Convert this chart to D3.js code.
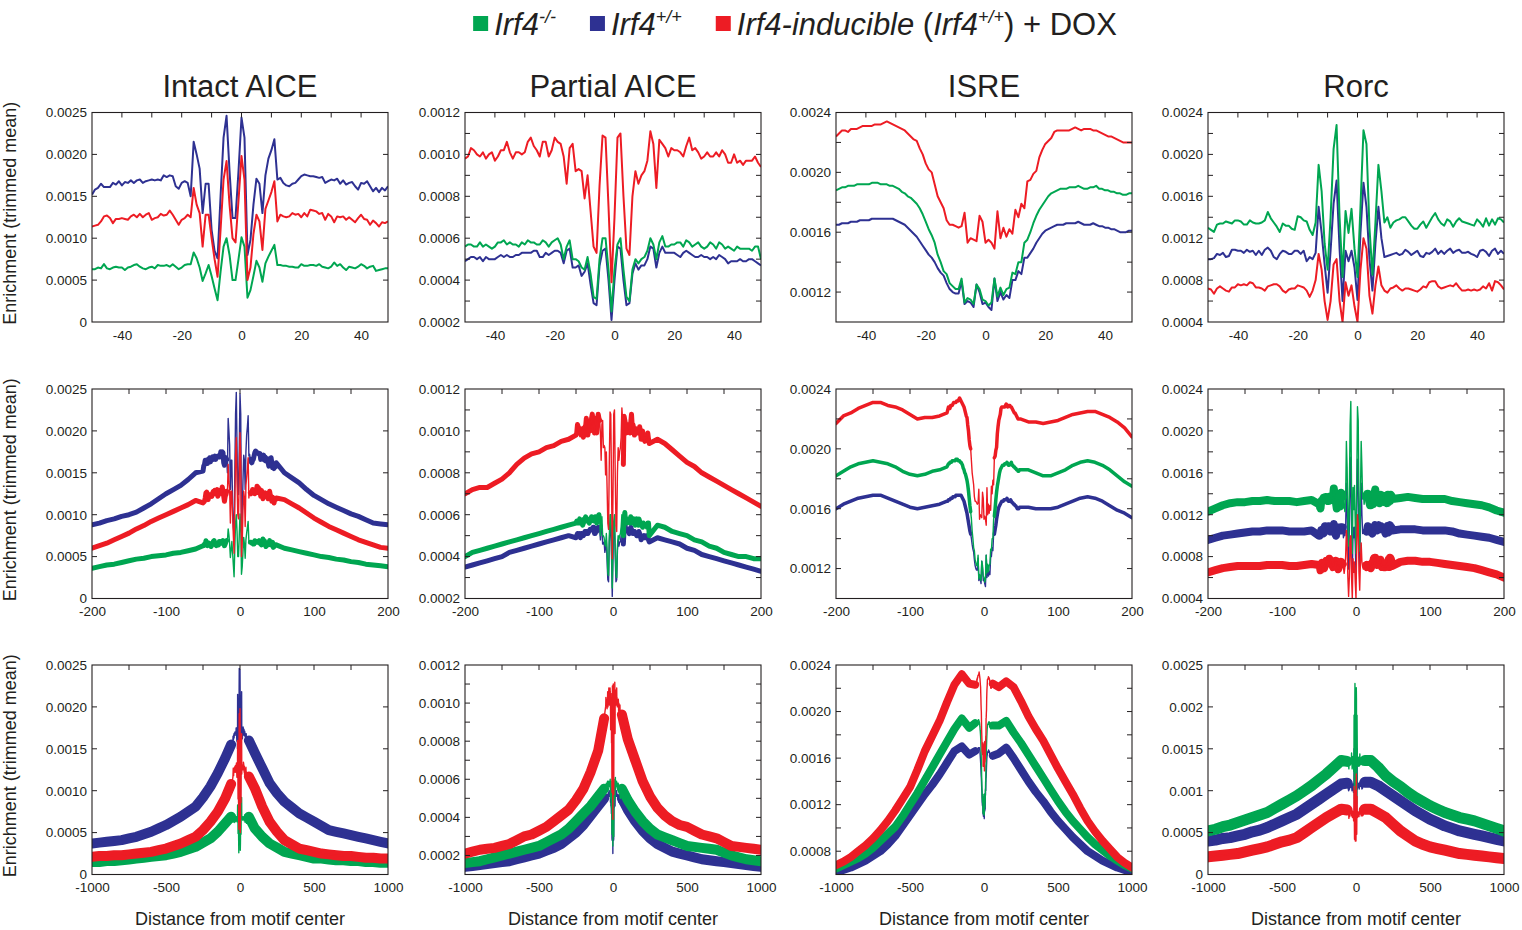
<!DOCTYPE html>
<html>
<head>
<meta charset="utf-8">
<script src="https://cdn.jsdelivr.net/npm/d3@7"></script>
<style>
  body { margin: 0; background: #fff; }
  text { font-family: "Liberation Sans", Arial, Helvetica, sans-serif; fill: #231f20; }
  .tick text { font-size: 13.5px; }
</style>
</head>
<body>
<div id="chart"></div>
<script>
// all enrichment values are in units of 1e-4 (0.0010 -> 10)

// x grids: fine (row 1), mid flanks (row 2), wide flanks (row 3)
var xFine = d3.range(-50, 50);
var xMid = d3.range(-200, -59, 10).concat(d3.range(60, 201, 10));
var xWide = d3.range(-1000, -99, 50).concat([-60, 60]).concat(d3.range(100, 1001, 50));

// ---------- Intact AICE ----------
var aiceFineWT = [15.2,15.8,16.0,16.5,16.1,16.1,16.1,16.6,16.4,16.8,
  16.3,16.7,16.6,16.9,16.6,16.9,17.0,16.6,16.8,16.9,
  17.0,16.9,17.0,16.9,17.5,17.3,17.5,17.4,16.2,15.9,
  16.6,16.8,16.6,15.0,21.5,20.0,18.3,13.0,16.5,16.5,
  11.0,8.5,7.6,15.0,22.0,24.6,18.0,12.4,12.4,18.0,
  24.4,22.0,8.0,9.8,14.0,17.1,16.5,13.0,17.5,19.5,
  20.5,21.8,17.0,17.2,16.6,16.3,16.2,16.5,16.6,17.0,
  17.4,17.6,17.5,17.4,17.4,17.3,17.2,17.3,16.6,16.8,
  17.0,16.9,17.1,16.5,16.9,16.4,16.6,16.7,16.2,15.8,
  16.6,16.5,16.8,16.2,15.6,16.0,15.5,16.0,15.7,16.2];
var aiceFineDOX = [11.4,11.5,11.6,12.0,12.6,12.7,12.4,11.8,12.3,12.3,
  12.4,12.3,12.2,12.6,12.8,12.5,12.9,12.5,12.8,13.0,
  12.2,12.4,12.5,12.9,12.7,12.8,13.3,12.8,12.2,11.6,
  12.2,12.4,12.8,12.5,16.0,14.0,13.0,9.0,12.8,12.8,
  10.0,7.5,5.4,11.0,17.0,19.2,14.0,10.0,9.5,14.5,
  19.8,17.0,5.0,6.5,10.5,12.8,12.0,8.6,13.5,14.5,
  15.5,16.8,12.0,12.8,12.6,12.5,12.6,13.0,12.8,12.9,
  12.5,13.0,12.6,13.4,13.3,13.2,12.9,13.0,12.2,12.9,
  12.6,11.9,12.6,12.5,12.6,12.2,12.5,12.2,11.9,12.4,
  12.8,12.3,12.2,11.6,12.1,11.8,11.4,11.9,11.8,12.0];
var aiceFineKO = [6.3,6.3,6.5,6.4,6.9,6.4,6.3,6.5,6.6,6.5,
  6.5,6.2,6.5,6.6,6.8,6.9,6.6,6.4,6.3,6.5,
  6.6,6.4,6.8,6.7,6.7,6.8,6.6,6.9,6.6,6.3,
  6.5,6.8,6.9,6.9,8.3,7.6,6.5,4.9,5.8,6.8,
  5.5,4.0,2.6,6.0,9.0,10.0,8.0,5.0,5.0,7.5,
  10.1,9.0,2.9,3.8,5.5,7.3,6.5,4.8,7.0,7.8,
  8.5,9.2,6.8,6.8,6.7,6.7,6.6,6.6,6.5,6.5,
  6.9,6.7,6.7,6.8,6.8,6.7,6.9,6.6,6.5,6.4,
  6.6,7.1,6.7,6.9,6.5,6.2,6.6,6.5,6.4,6.6,
  6.9,6.7,6.4,6.6,6.7,6.1,6.2,6.3,6.4,6.4];
var aiceMidWT = [8.8,9.0,9.3,9.5,9.8,10.0,10.3,10.8,11.3,11.9,12.5,13.0,13.5,14.2,15.0,
  15.0,14.4,13.8,13.0,12.3,11.8,11.3,10.9,10.5,10.1,9.8,9.4,9.0,8.9,8.8];
var aiceMidDOX = [6.0,6.3,6.6,7.0,7.4,7.8,8.3,8.7,9.2,9.6,10.0,10.4,10.8,11.2,11.7,
  11.8,11.3,10.8,10.2,9.6,9.1,8.6,8.2,7.8,7.4,7.0,6.7,6.4,6.1,6.0];
var aiceMidKO = [3.6,3.8,4.0,4.1,4.3,4.5,4.7,4.8,5.0,5.1,5.2,5.4,5.5,5.7,5.9,
  6.0,5.8,5.6,5.4,5.2,5.0,4.9,4.7,4.6,4.4,4.3,4.1,4.0,3.9,3.8];
var aiceWideWT = [3.7,3.8,3.9,4.0,4.1,4.3,4.5,4.8,5.1,5.5,5.9,6.4,6.9,7.5,8.1,9.2,10.5,12.1,13.9,15.5,
  16.0,14.5,12.7,10.9,9.7,8.7,8.0,7.3,6.8,6.3,5.8,5.3,5.1,4.9,4.7,4.5,4.3,4.1,3.9,3.7];
var aiceWideDOX = [2.1,2.2,2.2,2.3,2.3,2.4,2.5,2.6,2.7,2.9,3.1,3.4,3.7,4.1,4.5,5.3,6.3,7.5,9.1,10.8,
  11.7,10.3,8.1,6.3,5.1,4.1,3.6,3.1,2.9,2.7,2.5,2.4,2.3,2.2,2.2,2.1,2.0,2.0,1.9,1.9];
var aiceWideKO = [1.5,1.5,1.6,1.6,1.7,1.8,1.9,2.0,2.1,2.2,2.3,2.5,2.7,3.0,3.3,3.8,4.3,5.1,6.1,6.9,
  6.9,5.5,4.5,3.7,3.2,2.7,2.5,2.3,2.1,1.9,1.9,1.8,1.7,1.7,1.6,1.6,1.5,1.5,1.4,1.4];

// ---------- Partial AICE ----------
var partialFineDOX = [9.8,9.9,10.3,10.2,10.0,9.9,10.1,9.8,10.0,10.1,
  9.7,9.9,10.2,10.2,10.6,10.1,9.8,10.1,10.1,10.0,
  10.1,10.6,10.8,10.4,10.2,9.9,10.6,10.6,9.9,10.2,
  10.8,10.6,10.5,9.9,8.6,10.3,10.5,9.2,9.3,9.2,
  7.9,9.0,7.3,5.6,5.3,8.5,10.9,10.8,7.5,3.9,
  7.0,10.8,11.0,8.0,5.5,5.2,8.0,9.2,8.6,9.0,
  9.2,9.7,11.1,10.5,8.4,10.7,10.5,10.3,9.9,10.3,
  10.2,10.2,10.1,9.9,10.4,10.8,10.2,10.3,10.1,9.8,
  9.9,10.1,9.9,9.9,10.1,9.9,10.2,10.0,9.6,9.6,
  10.0,9.6,9.7,9.5,9.7,9.7,9.7,9.9,9.6,9.4];
var partialFineKO = [5.6,5.7,5.7,5.6,5.6,5.8,5.6,5.7,5.6,5.5,
  5.6,5.8,5.8,5.9,5.7,5.8,5.7,5.7,5.6,5.8,
  5.7,5.9,5.8,5.8,5.7,5.7,5.9,5.8,5.6,5.8,
  5.9,6.0,5.7,5.0,5.6,5.9,5.0,5.0,4.9,4.6,
  4.5,5.1,4.3,3.2,3.1,5.0,6.0,6.0,4.5,2.5,
  4.5,5.7,6.0,4.5,3.2,3.0,4.5,5.0,4.8,5.0,
  5.1,5.4,6.0,5.7,5.0,5.8,6.1,5.6,5.6,5.7,
  5.7,5.8,5.8,5.6,5.9,5.8,5.6,5.7,5.8,5.6,
  5.5,5.6,5.8,5.7,5.5,5.8,5.7,5.5,5.6,5.5,
  5.4,5.6,5.5,5.5,5.5,5.5,5.4,5.6,5.6,5.0];
var partialFineWT = [4.9,5.0,5.1,5.1,5.0,5.1,4.9,5.1,5.0,5.0,
  5.0,5.1,5.2,5.1,5.2,5.1,5.1,5.2,5.2,5.3,
  5.3,5.3,5.3,5.4,5.4,5.1,5.1,5.3,5.2,5.3,
  5.4,5.4,5.3,4.8,5.4,5.5,4.6,4.6,4.7,4.2,
  4.4,4.8,3.8,2.9,2.8,4.7,5.4,5.5,4.0,2.1,
  4.0,5.6,5.5,4.0,2.8,2.9,4.3,4.8,4.5,4.7,
  4.7,5.0,5.6,5.5,4.6,5.3,5.6,5.3,5.3,5.3,
  5.3,5.2,5.1,5.3,5.4,5.3,5.2,5.1,5.1,5.2,
  5.1,5.1,5.0,5.1,5.0,5.2,5.1,5.0,4.8,4.9,
  4.9,4.9,5.0,4.9,4.9,5.0,5.0,4.9,4.8,4.7];
var partialMidDOX = [7.0,7.2,7.3,7.3,7.5,7.7,8.0,8.4,8.7,8.9,9.0,9.2,9.3,9.5,9.6,
  9.6,9.4,9.1,8.8,8.5,8.3,8.0,7.8,7.6,7.4,7.2,7.0,6.8,6.6,6.4];
var partialMidKO = [4.0,4.2,4.3,4.4,4.5,4.6,4.7,4.8,4.9,5.0,5.1,5.2,5.3,5.4,5.5,
  5.5,5.4,5.2,5.1,5.0,4.8,4.7,4.5,4.4,4.2,4.1,4.0,4.0,3.9,3.9];
var partialMidWT = [3.5,3.6,3.7,3.8,3.9,4.0,4.2,4.3,4.4,4.5,4.6,4.7,4.8,4.9,5.0,
  4.9,4.8,4.7,4.6,4.4,4.3,4.1,4.0,3.9,3.8,3.7,3.6,3.5,3.4,3.3];
var partialWideDOX = [2.1,2.2,2.3,2.35,2.4,2.5,2.6,2.8,3.0,3.1,3.3,3.5,3.8,4.1,4.4,4.9,5.5,6.4,7.5,9.2,
  9.4,8.1,7.0,5.9,5.1,4.5,4.1,3.8,3.6,3.5,3.3,3.1,3.0,2.9,2.7,2.5,2.45,2.4,2.35,2.3];
var partialWideKO = [1.6,1.65,1.7,1.8,1.9,2.0,2.1,2.2,2.3,2.4,2.5,2.7,2.9,3.1,3.4,3.8,4.2,4.6,5.1,5.5,
  5.5,4.9,4.3,3.8,3.4,3.1,2.95,2.8,2.65,2.5,2.45,2.4,2.35,2.3,2.15,2.0,1.9,1.8,1.75,1.7];
var partialWideWT = [1.4,1.45,1.5,1.55,1.6,1.65,1.7,1.8,1.9,2.0,2.1,2.25,2.4,2.6,2.9,3.2,3.6,4.1,4.6,5.0,
  5.0,4.4,3.8,3.3,2.9,2.6,2.4,2.2,2.1,2.0,1.9,1.8,1.75,1.7,1.65,1.6,1.55,1.5,1.45,1.4];

// ---------- ISRE ----------
var isreFineDOX = [22.4,22.6,22.8,22.8,22.7,22.9,22.9,22.9,23.0,23.1,
  23.1,23.1,23.1,23.2,23.2,23.2,23.3,23.4,23.3,23.2,
  23.1,23.0,22.9,22.8,22.6,22.4,22.2,22.1,21.6,21.2,
  20.6,20.2,20.0,19.2,18.4,18.0,17.6,16.8,16.5,16.5,
  16.4,16.3,16.4,17.3,15.3,15.6,15.5,15.4,17.1,16.7,
  15.3,15.5,15.3,14.9,17.4,15.6,16.3,15.7,16.2,15.9,
  17.5,17.0,17.9,17.6,19.4,19.5,19.9,20.1,21.0,21.5,
  21.9,22.1,22.3,22.7,22.8,22.8,22.8,22.8,22.8,22.9,
  23.0,22.9,22.8,22.9,22.9,22.9,22.8,22.8,22.7,22.6,
  22.5,22.4,22.4,22.3,22.2,22.1,22.0,22.0,22.0,22.0];
var isreFineKO = [18.8,18.9,19.0,19.0,19.1,19.1,19.1,19.2,19.2,19.2,
  19.2,19.2,19.3,19.3,19.3,19.2,19.2,19.2,19.1,19.1,
  19.0,18.9,18.7,18.6,18.4,18.3,18.1,17.9,17.6,17.2,
  16.7,16.2,15.8,15.3,14.5,14.0,13.4,13.2,12.6,12.4,
  12.2,12.2,12.9,11.3,11.6,11.5,11.2,12.5,12.2,11.5,
  11.4,11.1,11.3,12.9,11.7,12.3,11.8,12.2,12.3,13.3,
  13.2,14.0,14.0,15.3,15.5,16.0,16.6,17.1,17.5,17.8,
  18.1,18.4,18.6,18.7,18.8,18.9,18.9,18.9,19.0,19.0,
  19.0,19.1,19.0,18.9,18.9,19.0,19.0,19.1,18.9,18.9,
  18.8,18.8,18.7,18.7,18.6,18.6,18.5,18.5,18.6,18.6];
var isreFineWT = [16.5,16.5,16.6,16.6,16.6,16.7,16.7,16.7,16.8,16.8,
  16.8,16.8,16.9,16.9,16.9,16.9,16.9,16.9,16.9,16.9,
  16.8,16.7,16.6,16.5,16.3,16.1,15.9,15.7,15.4,15.1,
  14.8,14.5,14.3,14.0,13.6,13.3,13.1,12.6,12.2,12.0,
  11.9,11.9,12.7,11.2,11.4,11.3,11.0,12.5,12.0,11.2,
  11.3,11.0,10.8,12.9,11.4,12.0,11.5,11.8,11.6,12.8,
  12.8,13.4,13.2,14.3,14.3,14.6,14.9,15.3,15.6,15.9,
  16.1,16.2,16.3,16.4,16.5,16.5,16.5,16.6,16.6,16.6,
  16.6,16.7,16.6,16.5,16.5,16.5,16.6,16.5,16.4,16.4,
  16.3,16.3,16.2,16.2,16.1,16.0,16.0,16.0,16.1,16.1];
var isreMidDOX = [21.7,22.2,22.4,22.7,22.9,23.1,23.1,22.9,22.8,22.6,22.3,22.0,22.1,22.1,22.2,
  21.8,21.8,21.7,21.8,21.9,22.1,22.3,22.4,22.5,22.5,22.3,22.1,21.8,21.4,20.8];
var isreMidKO = [18.2,18.5,18.8,19.0,19.1,19.2,19.1,19.0,18.8,18.5,18.3,18.2,18.3,18.5,18.6,
  18.6,18.4,18.2,18.2,18.4,18.6,18.9,19.1,19.2,19.1,18.9,18.6,18.2,17.8,17.5];
var isreMidWT = [16.0,16.3,16.5,16.7,16.8,16.9,16.9,16.7,16.5,16.3,16.1,16.0,16.1,16.2,16.3,
  16.1,16.0,16.0,16.0,16.1,16.3,16.5,16.7,16.8,16.7,16.5,16.2,15.9,15.7,15.4];
var isreWideDOX = [6.8,7.1,7.5,8.0,8.5,9.1,9.8,10.6,11.5,12.5,13.5,15.0,16.6,17.9,19.2,20.8,22.3,23.2,22.4,22.3,
  22.4,22.1,22.6,22.1,20.9,19.6,18.5,17.5,16.3,15.1,14.0,12.9,11.7,10.6,9.7,8.9,8.2,7.5,7.0,6.6];
var isreWideKO = [6.5,6.8,7.1,7.4,7.8,8.3,8.9,9.5,10.1,11.0,12.0,13.0,14.1,15.2,16.3,17.4,18.5,19.4,18.6,19.0,
  18.8,18.8,19.2,18.2,17.3,16.3,15.3,14.3,13.3,12.3,11.4,10.6,9.9,9.2,8.6,8.1,7.6,7.2,6.8,6.5];
var isreWideWT = [6.2,6.4,6.6,6.9,7.2,7.6,8.0,8.6,9.3,10.2,11.1,12.0,12.9,13.7,14.6,15.6,16.6,17.0,16.3,16.6,
  16.2,16.4,16.9,16.0,15.0,14.0,13.1,12.3,11.4,10.6,9.9,9.2,8.6,8.0,7.6,7.2,6.9,6.6,6.4,6.1];

// ---------- Rorc ----------
var rorcFineKO = [13.0,12.8,12.6,13.3,13.4,13.4,13.6,13.5,13.4,13.7,
  13.7,13.6,13.3,13.3,13.7,13.5,13.4,13.4,13.5,13.7,
  14.5,13.9,13.5,13.1,12.6,13.4,13.2,13.2,12.9,12.8,
  14.1,14.0,13.7,13.6,12.8,12.3,13.5,19.0,16.5,11.5,
  9.0,14.0,20.5,22.8,14.0,8.3,14.6,12.5,14.8,11.0,
  8.3,15.0,22.3,21.0,13.0,8.5,13.5,19.0,16.5,13.5,
  14.0,13.0,13.5,13.7,13.8,14.0,14.0,13.6,13.2,12.9,
  12.9,13.3,13.6,13.0,13.5,14.0,14.4,13.8,13.4,13.2,
  13.8,13.6,13.1,13.6,13.9,13.6,13.5,13.4,13.3,13.2,
  13.8,13.5,13.1,13.9,13.2,13.8,13.3,13.9,13.8,13.5];
var rorcFineWT = [10.0,10.0,10.1,10.5,10.4,10.6,10.2,10.3,10.9,10.9,
  10.8,10.8,10.6,10.9,10.7,10.8,10.4,10.8,10.4,10.9,
  11.1,10.8,10.2,10.0,10.5,10.8,10.7,10.5,10.5,10.8,
  10.8,10.5,10.8,9.8,10.2,10.0,10.6,15.0,12.5,9.5,
  6.8,10.8,15.3,17.5,11.0,6.0,10.8,9.8,10.8,9.2,
  6.1,12.5,17.3,15.0,10.0,7.0,11.5,15.0,12.0,10.2,
  10.3,10.4,10.5,10.6,10.4,10.5,10.9,10.7,10.4,10.6,
  10.8,10.3,10.2,10.6,10.5,10.7,11.0,10.5,10.8,10.5,
  10.8,11.0,10.6,10.8,10.9,10.6,10.6,10.7,10.5,10.4,
  10.2,10.8,10.9,10.7,10.3,10.8,11.0,10.5,10.8,10.5];
var rorcFineDOX = [7.2,7.1,6.7,7.2,7.4,7.2,7.0,6.9,7.3,7.3,
  7.6,7.5,7.6,7.5,7.8,7.7,7.3,7.3,7.2,7.0,
  7.4,7.5,7.6,7.6,7.4,7.0,6.8,7.1,7.2,7.2,
  7.5,7.4,7.3,7.0,6.4,7.0,8.0,10.5,9.0,6.0,
  4.2,6.0,9.5,10.0,6.0,4.0,7.8,6.5,7.5,5.5,
  4.0,9.0,12.0,11.0,6.5,4.8,7.5,9.3,7.5,7.0,
  6.8,7.2,7.3,7.5,7.2,7.0,7.2,7.2,7.1,7.0,
  6.9,7.1,7.4,7.3,7.8,7.9,7.9,7.4,7.2,7.3,
  7.4,7.5,7.4,7.7,7.3,7.0,7.0,7.1,7.0,7.1,
  7.0,7.1,7.4,7.2,7.7,7.0,7.9,7.8,7.5,7.1];
var rorcMidKO = [12.3,12.6,12.9,13.1,13.2,13.2,13.3,13.3,13.4,13.3,13.3,13.3,13.2,13.3,13.4,
  13.6,13.7,13.6,13.5,13.5,13.5,13.5,13.3,13.2,13.1,13.0,12.9,12.7,12.4,12.2];
var rorcMidWT = [9.6,9.8,10.0,10.1,10.2,10.3,10.4,10.4,10.5,10.5,10.5,10.4,10.4,10.4,10.5,
  10.6,10.6,10.6,10.5,10.5,10.5,10.5,10.4,10.2,10.1,10.0,9.9,9.8,9.6,9.4];
var rorcMidDOX = [6.5,6.7,6.9,7.0,7.1,7.1,7.1,7.1,7.2,7.2,7.2,7.1,7.1,7.2,7.3,
  7.5,7.6,7.6,7.5,7.5,7.4,7.3,7.2,7.1,7.0,6.9,6.7,6.5,6.3,6.0];
var rorcWideKO = [5.2,5.4,5.7,5.9,6.2,6.5,6.8,7.1,7.4,7.9,8.4,8.9,9.4,10.0,10.6,11.3,12.0,12.8,13.6,13.5,
  13.6,13.6,12.8,11.8,11.1,10.5,9.8,9.2,8.7,8.2,7.8,7.4,7.1,6.8,6.6,6.4,6.1,5.8,5.5,5.2];
var rorcWideWT = [4.0,4.1,4.3,4.4,4.6,4.8,5.1,5.3,5.6,6.0,6.4,6.8,7.2,7.8,8.4,9.0,9.6,10.2,10.8,10.9,
  11.0,11.0,10.6,10.0,9.4,8.8,8.2,7.6,7.1,6.6,6.2,5.8,5.5,5.2,5.0,4.8,4.6,4.4,4.2,4.0];
var rorcWideDOX = [2.1,2.2,2.3,2.4,2.5,2.7,2.9,3.1,3.3,3.6,3.9,4.1,4.4,5.0,5.6,6.2,6.8,7.3,7.8,7.7,
  7.8,7.8,7.3,6.8,6.0,5.2,4.6,4.0,3.6,3.3,3.1,2.9,2.7,2.5,2.4,2.3,2.2,2.1,2.0,1.9];

// ---------- axes ----------
var titles = ["Intact AICE", "Partial AICE", "ISRE", "Rorc"];
var xDomains = [[-50, 49], [-200, 200], [-1000, 1000]];
var xTickVals = [[-40, -20, 0, 20, 40], [-200, -100, 0, 100, 200], [-1000, -500, 0, 500, 1000]];
var xMinorStep = [10, 50, 250];

var yDomains = [
  [[0, 25], [0, 25], [0, 25]],
  [[2, 12], [2, 12], [1, 12]],
  [[10, 24], [10, 24], [6, 24]],
  [[4, 24], [4, 24], [0, 25]]
];
var yTickVals = [
  [[0,5,10,15,20,25], [0,5,10,15,20,25], [0,5,10,15,20,25]],
  [[2,4,6,8,10,12], [2,4,6,8,10,12], [2,4,6,8,10,12]],
  [[12,16,20,24], [12,16,20,24], [8,12,16,20,24]],
  [[4,8,12,16,20,24], [4,8,12,16,20,24], [0,5,10,15,20,25]]
];
var yTickText = [
  [["0","0.0005","0.0010","0.0015","0.0020","0.0025"], ["0","0.0005","0.0010","0.0015","0.0020","0.0025"], ["0","0.0005","0.0010","0.0015","0.0020","0.0025"]],
  [["0.0002","0.0004","0.0006","0.0008","0.0010","0.0012"], ["0.0002","0.0004","0.0006","0.0008","0.0010","0.0012"], ["0.0002","0.0004","0.0006","0.0008","0.0010","0.0012"]],
  [["0.0012","0.0016","0.0020","0.0024"], ["0.0012","0.0016","0.0020","0.0024"], ["0.0008","0.0012","0.0016","0.0020","0.0024"]],
  [["0.0004","0.0008","0.0012","0.0016","0.0020","0.0024"], ["0.0004","0.0008","0.0012","0.0016","0.0020","0.0024"], ["0","0.0005","0.001","0.0015","0.002","0.0025"]]
];
var yMinorStep = [[5, 5, 5], [1, 1, 1], [2, 2, 2], [2, 2, 5]];

var legendParts = [
  [["Irf4", "i"], ["-/-", "sup"]],
  [["Irf4", "i"], ["+/+", "sup"]],
  [["Irf4-inducible", "i"], [" (", ""], ["Irf4", "i"], ["+/+", "sup"], [") + DOX", ""]]
];

// ---------- layout ----------
var svgWidth = 1522, svgHeight = 930;
var GREEN = "#00a651", BLUE = "#2e3192", RED = "#ed1c24";
var colLeft = [92, 465, 836, 1208];
var rowTop = [112.5, 389, 665];
var plotW = 296, plotH = 209.5;
// thickness of the noisy band drawn on the flanks, by [column][row]
var bandWidth = [[0, 5, 10], [0, 5, 10], [0, 3.5, 8], [0, 8, 11]];
var lineWidth = [2, 1.4, 1.4];
var bandCut = [-18, 14];   // row 2: centre part keeps the thin line only

var svg = d3.select("#chart").append("svg")
  .attr("width", svgWidth)
  .attr("height", svgHeight);

var columns = [
  {ko: [aiceFineKO, aiceMidKO, aiceWideKO], wt: [aiceFineWT, aiceMidWT, aiceWideWT], dox: [aiceFineDOX, aiceMidDOX, aiceWideDOX]},
  {ko: [partialFineKO, partialMidKO, partialWideKO], wt: [partialFineWT, partialMidWT, partialWideWT], dox: [partialFineDOX, partialMidDOX, partialWideDOX]},
  {ko: [isreFineKO, isreMidKO, isreWideKO], wt: [isreFineWT, isreMidWT, isreWideWT], dox: [isreFineDOX, isreMidDOX, isreWideDOX]},
  {ko: [rorcFineKO, rorcMidKO, rorcWideKO], wt: [rorcFineWT, rorcMidWT, rorcWideWT], dox: [rorcFineDOX, rorcMidDOX, rorcWideDOX]}
];
var seriesOrder = [["wt", BLUE], ["ko", GREEN], ["dox", RED]];

function zip(xs, vs) {
  return xs.map(function(x, i) { return [x, vs[i]]; });
}

// returns {full, left, right} point lists for a row
function buildSeries(arrs, row) {
  var fine = zip(xFine, arrs[0]);
  if (row === 0) return {full: fine, left: null, right: null};
  var xs = row === 1 ? xMid : xWide;
  var vs = arrs[row];
  var half = xs.length / 2;
  var left = zip(xs.slice(0, half), vs.slice(0, half));
  var right = zip(xs.slice(half), vs.slice(half));
  var full = left.concat(fine, right);
  if (row === 2) return {full: full, left: left, right: right};
  var fineL = fine.filter(function(d) { return d[0] <= bandCut[0]; });
  var fineR = fine.filter(function(d) { return d[0] >= bandCut[1]; });
  return {full: full, left: left.concat(fineL), right: fineR.concat(right)};
}

function minorTicks(domain, step) {
  var out = [];
  var start = Math.ceil(domain[0] / step) * step;
  for (var v = start; v <= domain[1] + 1e-9; v += step) {
    if (Math.abs(v - domain[0]) > 1e-9 && Math.abs(v - domain[1]) > 1e-9) out.push(v);
  }
  return out;
}

for (var r = 0; r < 3; r++) {
  for (var c = 0; c < 4; c++) {
    drawPanel(c, r);
  }
}

function drawPanel(c, r) {
  var g = svg.append("g").attr("transform", `translate(${colLeft[c]}, ${rowTop[r]})`);
  var x = d3.scaleLinear().domain(xDomains[r]).range([0, plotW]);
  var y = d3.scaleLinear().domain(yDomains[c][r]).range([plotH, 0]);

  var clipId = "clip-" + r + "-" + c;
  g.append("clipPath").attr("id", clipId)
    .append("rect").attr("width", plotW).attr("height", plotH);

  var plot = g.append("g").attr("clip-path", `url(#${clipId})`);
  var line = d3.line().x(function(d) { return x(d[0]); }).y(function(d) { return y(d[1]); });

  seriesOrder.forEach(function(s) {
    var ser = buildSeries(columns[c][s[0]], r);
    if (ser.left) {
      [ser.left, ser.right].forEach(function(pts) {
        plot.append("path")
          .attr("d", line(pts))
          .attr("fill", "none")
          .attr("stroke", s[1])
          .attr("stroke-width", bandWidth[c][r])
          .attr("stroke-linejoin", "round")
          .attr("stroke-linecap", "round");
      });
    }
    plot.append("path")
      .attr("d", line(ser.full))
      .attr("fill", "none")
      .attr("stroke", s[1])
      .attr("stroke-width", lineWidth[r])
      .attr("stroke-linejoin", "round");
  });

  // inward ticks: top, right, left
  var xm = minorTicks(xDomains[r], xMinorStep[r]);
  var ym = minorTicks(yDomains[c][r], yMinorStep[c][r]);
  var tk = g.append("g").attr("stroke", "#231f20").attr("stroke-width", 1);
  xm.forEach(function(v) {
    tk.append("line").attr("x1", x(v)).attr("x2", x(v)).attr("y1", 0).attr("y2", 5);
  });
  ym.forEach(function(v) {
    tk.append("line").attr("x1", plotW).attr("x2", plotW - 5).attr("y1", y(v)).attr("y2", y(v));
    tk.append("line").attr("x1", 0).attr("x2", 5).attr("y1", y(v)).attr("y2", y(v));
  });

  // frame
  g.append("rect")
    .attr("width", plotW).attr("height", plotH)
    .attr("fill", "none").attr("stroke", "#231f20").attr("stroke-width", 1.1);

  // tick labels
  var xAxis = d3.axisBottom(x).tickValues(xTickVals[r]).tickSize(0).tickPadding(8)
    .tickFormat(function(d) { return String(d); });
  var gx = g.append("g").attr("transform", `translate(0, ${plotH})`).call(xAxis);
  gx.select(".domain").remove();

  var labels = yTickText[c][r];
  var yAxis = d3.axisLeft(y).tickValues(yTickVals[c][r]).tickSize(0).tickPadding(5)
    .tickFormat(function(d, i) { return labels[i]; });
  var gy = g.append("g").call(yAxis);
  gy.select(".domain").remove();

  if (r === 0) {
    svg.append("text")
      .attr("x", colLeft[c] + plotW / 2)
      .attr("y", 97)
      .attr("text-anchor", "middle")
      .attr("font-size", 31)
      .text(titles[c]);
  }
  if (r === 2) {
    svg.append("text")
      .attr("x", colLeft[c] + plotW / 2)
      .attr("y", 925)
      .attr("text-anchor", "middle")
      .attr("font-size", 18)
      .text("Distance from motif center");
  }
  if (c === 0) {
    svg.append("text")
      .attr("transform", `translate(15.5, ${rowTop[r] + plotH / 2 - 4}) rotate(-90)`)
      .attr("text-anchor", "middle")
      .attr("font-size", 18)
      .text("Enrichment (trimmed mean)");
  }
}

// ---------- legend ----------
var legendColors = [GREEN, BLUE, RED];
var legend = svg.append("g");
var items = [];
legendParts.forEach(function(parts, i) {
  var item = legend.append("g");
  item.append("rect").attr("width", 15).attr("height", 15).attr("y", 16).attr("fill", legendColors[i]);
  var t = item.append("text").attr("x", 21).attr("y", 35).attr("font-size", 31);
  var raised = false;
  parts.forEach(function(p) {
    var ts = t.append("tspan").text(p[0]);
    if (p[1] === "sup") {
      ts.attr("font-size", 18).attr("dy", -12).attr("font-style", "italic");
      raised = true;
    } else {
      if (raised) { ts.attr("dy", 12); raised = false; }
      if (p[1] === "i") ts.attr("font-style", "italic");
    }
  });
  items.push({g: item, w: 21 + t.node().getComputedTextLength()});
});
var gap = 34;
var total = d3.sum(items, function(d) { return d.w; }) + gap * (items.length - 1);
var cursor = 795 - total / 2;
items.forEach(function(d) {
  d.g.attr("transform", `translate(${cursor}, 0)`);
  cursor += d.w + gap;
});
</script>
</body>
</html>
